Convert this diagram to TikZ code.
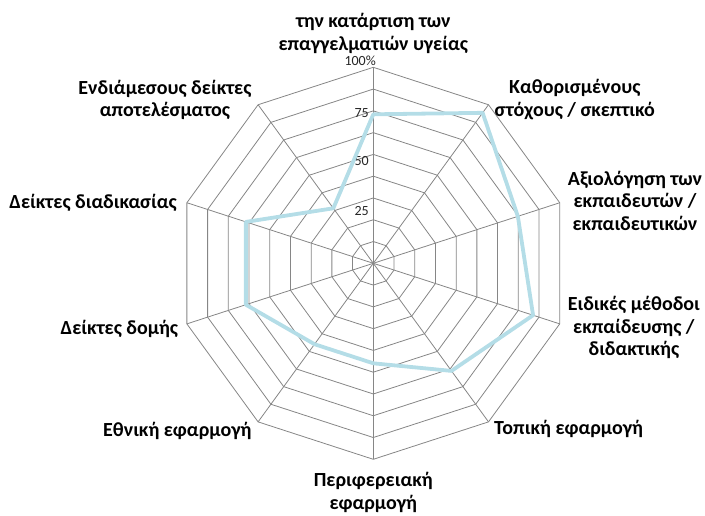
\documentclass[tikz,border=0pt]{standalone}
\usepackage{fontspec}
\setmainfont{Carlito}
\definecolor{gridgray}{RGB}{134,134,134}
\definecolor{serieblue}{RGB}{180,221,231}
\tikzset{
  catlabel/.style={font=\bfseries\fontsize{20}{22.5}\selectfont, align=center, inner sep=2pt},
  ticklabel/.style={font=\fontsize{14}{16}\selectfont, text=black!85, inner sep=0pt, anchor=east},
  gridline/.style={draw=gridgray, line width=0.8pt},
  serie/.style={draw=serieblue, line width=3.8pt, line join=round}
}
\begin{document}
\begin{tikzpicture}[x=1pt,y=1pt]
  \useasboundingbox (0,0) rectangle (705,-515);
  \begin{scope}[shift={(373.3,-263.3)}]
    \path
      (90:196) coordinate (v0)
      (54:196) coordinate (v1)
      (18:196) coordinate (v2)
      (-18:196) coordinate (v3)
      (-54:196) coordinate (v4)
      (-90:196) coordinate (v5)
      (-126:196) coordinate (v6)
      (-162:196) coordinate (v7)
      (162:196) coordinate (v8)
      (126:196) coordinate (v9);
    \coordinate (c) at (0,0);
    % rings and spokes
    \foreach \r in {1,...,9} {
      \pgfmathsetmacro\rr{\r*196/9}
      \draw[gridline] (90:\rr) \foreach \k in {1,...,9} {-- (90-36*\k:\rr)} -- cycle;
    }
    \foreach \i in {0,...,9}
      \draw[gridline] (c) -- (v\i);
    % scale
    \node[ticklabel] (t25) at (-4.3,52.3) {25};
    \node[ticklabel] (t50) at (-4.3,102.3) {50};
    \node[ticklabel] (t75) at (-4.3,150.3) {75};
    \node[ticklabel] (t100) at (2.7,203) {100\%};
    % series
    \path
      (90:149) coordinate (d0)
      (54:186) coordinate (d1)
      (18:152) coordinate (d2)
      (-18:168) coordinate (d3)
      (-54:133) coordinate (d4)
      (-90:100) coordinate (d5)
      (-126:100) coordinate (d6)
      (-162:134) coordinate (d7)
      (162:134) coordinate (d8)
      (126:68) coordinate (d9);
    \draw[serie] (d0) -- (d1) -- (d2) -- (d3) -- (d4) -- (d5) -- (d6) -- (d7) -- (d8) -- (d9) -- cycle;
    % categories
    \node[catlabel, anchor=south, yshift=11.5] (lbl0) at (v0) {την κατάρτιση των\\επαγγελματιών υγείας};
    \node[catlabel, anchor=west, xshift=4, yshift=5] (lbl1) at (v1) {Καθορισμένους\\στόχους / σκεπτικό};
    \node[catlabel, anchor=west, xshift=6, yshift=2] (lbl2) at (v2) {Αξιολόγηση των\\εκπαιδευτών /\\εκπαιδευτικών};
    \node[catlabel, anchor=west, xshift=6, yshift=-4] (lbl3) at (v3) {Ειδικές μέθοδοι\\εκπαίδευσης /\\διδακτικής};
    \node[catlabel, anchor=north west, xshift=3.5, yshift=4] (lbl4) at (v4) {Τοπική εφαρμογή};
    \node[catlabel, anchor=north, yshift=-11] (lbl5) at (v5) {Περιφερειακή\\εφαρμογή};
    \node[catlabel, anchor=north east, xshift=-4.4, yshift=1.5] (lbl6) at (v6) {Εθνική εφαρμογή};
    \node[catlabel, anchor=east, xshift=-6.6, yshift=-4.6] (lbl7) at (v7) {Δείκτες δομής};
    \node[catlabel, anchor=east, xshift=-8] (lbl8) at (v8) {Δείκτες διαδικασίας};
    \node[catlabel, anchor=east, xshift=-4.4, yshift=5] (lbl9) at (v9) {Ενδιάμεσους δείκτες\\αποτελέσματος};
  \end{scope}
\end{tikzpicture}
\end{document}
